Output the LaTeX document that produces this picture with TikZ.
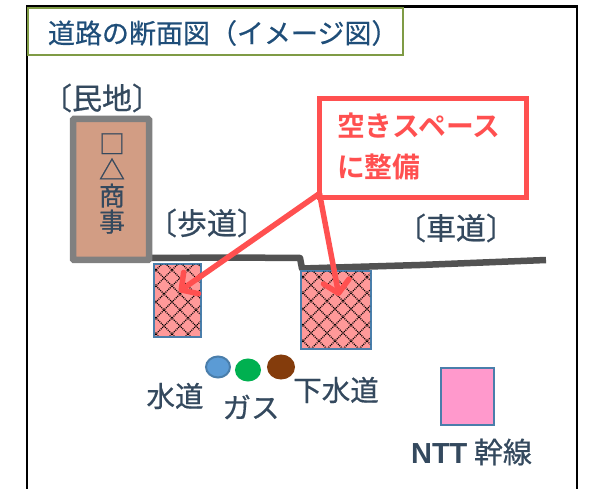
\documentclass[tikz,border=0pt]{standalone}
\usepackage{fontspec}
\usetikzlibrary{arrows.meta,shapes.geometric}
\newfontfamily\cjk{Noto Sans CJK JP}[RawFeature={embolden=0.6}]
\newfontfamily\cjkb{Noto Sans CJK JP Bold}
\newfontfamily\latn{Liberation Sans}
\definecolor{titleblue}{HTML}{1F4E79}
\definecolor{slatetext}{HTML}{34495E}
\definecolor{titlegreen}{HTML}{7F9B45}
\definecolor{alertred}{HTML}{FF5050}
\definecolor{edgeblue}{HTML}{4A7EAB}
\definecolor{ductpink}{HTML}{FF9999}
\newcommand{\fz}[1]{\fontsize{#1}{#1}\selectfont}
\tikzset{
  x=1pt,y=-1pt,
  every node/.style={outer sep=0pt},
  lbl/.style={inner sep=0pt,text=slatetext,font=\cjk\fz{28.5}},
  tag/.style={inner sep=0pt,text=slatetext,font=\cjk\fz{30}},
  redline/.style={draw=alertred,line width=5.5pt,
    -{Straight Barb[length=12pt,width=26pt,line width=5.5pt,round]}},
  duct/.style={draw=edgeblue,line width=2pt,inner sep=0pt,fill=ductpink},
  pipe/.style={ellipse,inner sep=0pt,line width=2pt},
}
\begin{document}
\begin{tikzpicture}
\useasboundingbox (0,0) rectangle (595,489);
\fill[white] (0,0) rectangle (595,489);
% frame
\draw[black,line width=2.6pt] (27,489) -- (27,6.5) -- (577,6.5) -- (577,489);
% title
\node[draw=titlegreen,line width=2.4pt,fill=white,minimum width=375pt,minimum height=47pt,inner sep=0pt,anchor=north west] (title) at (28,8) {};
\node[inner sep=0pt,anchor=west,text=titleblue,font=\cjk\fz{27}] (titletext) at (48,33) {道路の断面図（イメージ図）};
% road
\draw[draw=black!68,line width=6.5pt,line join=round] (150,258) -- (230,257.5) -- (300,258) -- (302,268.5) -- (420,265) -- (546,260);
% building
\node[draw=black!50,line width=6.5pt,fill={rgb,255:red,210;green,157;blue,132},rounded corners=1pt,minimum width=76pt,minimum height=141pt,inner sep=0pt] (bldg) at (111,189.5) {};
\node[inner sep=0pt,text=slatetext,font=\cjk\fz{26},align=center] (bldgtext) at (112,183.5) {\fontsize{26}{27}\selectfont □\\△\\商\\事};
\node[tag] (minchi) at (102,98) {〔民地〕};
\node[tag] (hodo) at (207,223) {〔歩道〕};
\node[tag] (shado) at (456,228) {〔車道〕};
% ducts
\foreach \nm/\xa/\ya/\xb/\yb in {ductL/154/264/201/337,ductR/301/271/371/349}{
  \node[duct,minimum width=\xb pt-\xa pt,minimum height=\yb pt-\ya pt,anchor=north west] (\nm) at (\xa,\ya) {};
  \begin{scope}
    \clip (\xa+1,\ya+1) rectangle (\xb-1,\yb-1);
    \foreach \k in {-12,...,32}{
      \draw[black,line width=1.3pt,dash pattern=on 1pt off 1pt] (\xa-6+\k*16,\ya-2) -- ++(100,100);
      \draw[black,line width=1.3pt,dash pattern=on 1pt off 1pt] (\xa-6+\k*16,\ya-2) -- ++(-100,100);
    }
  \end{scope}
}
% red callout
\node[draw=alertred,line width=5pt,fill=white,minimum width=207pt,minimum height=99pt,inner sep=0pt,anchor=north west] (callout) at (319.5,98.5) {};
\node[inner sep=0pt,anchor=west,text=alertred,font=\cjkb\fz{27.8}] (calltext1) at (337,126) {空きスペース};
\node[inner sep=0pt,anchor=west,text=alertred,font=\cjkb\fz{27.8}] (calltext2) at (337,167) {に整備};
\coordinate (tipL) at (179,291.5);
\coordinate (tipR) at (339,296);
\draw[redline] (callout.south west) ++(0,-4) -- (tipL);
\draw[redline] (callout.south west) ++(0,-4) -- (tipR);
% pipes
\node[pipe,draw=edgeblue,fill={rgb,255:red,91;green,155;blue,213},minimum width=24pt,minimum height=21pt] (water) at (218,367) {};
\node[pipe,draw={rgb,255:red,0;green,176;blue,80},fill={rgb,255:red,0;green,176;blue,80},minimum width=24pt,minimum height=21pt] (gas) at (248,370) {};
\node[pipe,draw={rgb,255:red,132;green,60;blue,12},fill={rgb,255:red,132;green,60;blue,12},minimum width=26pt,minimum height=23pt] (sewer) at (281,367) {};
\node[lbl] (waterlbl) at (175,396) {水道};
\node[lbl] (gaslbl) at (251,407) {ガス};
\node[lbl] (sewerlbl) at (336,390) {下水道};
% NTT
\node[draw=edgeblue,line width=2pt,fill={rgb,255:red,255;green,153;blue,204},minimum width=53pt,minimum height=56pt,inner sep=0pt] (ntt) at (467,396.5) {};
\node[inner sep=0pt,text=slatetext,font=\cjk\fz{29}] (nttlbl) at (471.5,452) {{\latn\bfseries NTT} 幹線};
\end{tikzpicture}
\end{document}
